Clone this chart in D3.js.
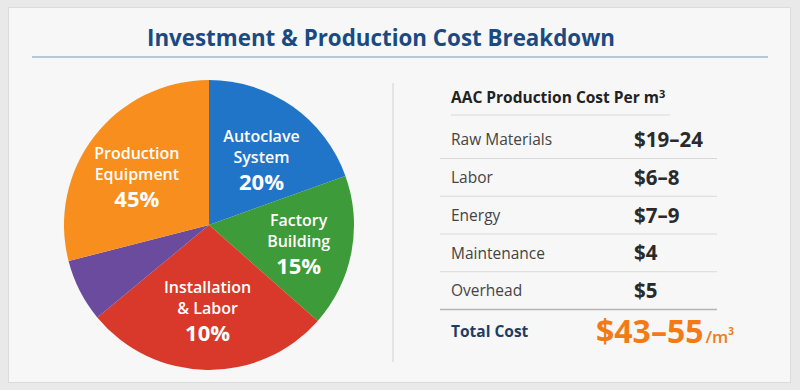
<!DOCTYPE html>
<html>
<head>
<meta charset="utf-8">
<script src="https://cdn.jsdelivr.net/npm/d3@7"></script>
<style>
  body { margin: 0; background: #e9e9e9; }
  svg { display: block; font-family: "Open Sans", "Noto Sans", sans-serif; }
</style>
</head>
<body>
<div id="c"></div>
<script>
// pie: names, printed percentages, and the share each slice takes in the drawing
var sliceNames = [["Autoclave", "System"], ["Factory", "Building"], ["Installation", "& Labor"], [], ["Production", "Equipment"]];
var slicePct = ["20%", "15%", "10%", "", "45%"];
var sliceShare = [19.5, 17, 27.5, 7, 29];
var sliceColors = ["#2075c9", "#3d9b39", "#d9392a", "#6b4b9e", "#f88e1d"];

// cost table
var costItems = ["Raw Materials", "Labor", "Energy", "Maintenance", "Overhead"];
var costValues = ["$19\u201324", "$6\u20138", "$7\u20139", "$4", "$5"];
var totalLabel = "Total Cost";
var totalValue = "$43\u201355";

var width = 800, height = 390;

var svg = d3.select("#c").append("svg")
	.attr("width", width)
	.attr("height", height);

// card
svg.append("rect")
	.attr("x", 8.5).attr("y", 7.5)
	.attr("width", 782).attr("height", 375)
	.attr("fill", "#f7f7f7")
	.attr("stroke", "#dcdcdc");

svg.append("text")
	.attr("x", 381).attr("y", 46)
	.attr("text-anchor", "middle")
	.attr("fill", "#1b4a82")
	.attr("font-size", 24)
	.attr("font-weight", 700)
	.attr("textLength", 468)
	.attr("lengthAdjust", "spacingAndGlyphs")
	.text("Investment & Production Cost Breakdown");

svg.append("line")
	.attr("x1", 32).attr("x2", 768)
	.attr("y1", 57).attr("y2", 57)
	.attr("stroke", "#b8c7d4")
	.attr("stroke-width", 2);

// divider
svg.append("line")
	.attr("x1", 393).attr("x2", 393)
	.attr("y1", 83).attr("y2", 362)
	.attr("stroke", "#dedede")
	.attr("stroke-width", 1.5);

// ---------- pie ----------
var radius = 145;
var pie_g = svg.append("g")
	.attr("transform", "translate(209,225)");

var pie = d3.pie().sort(null).value(function(d) { return d; });
var arcs = pie(sliceShare);

var arc = d3.arc().innerRadius(0).outerRadius(radius);
// centroid sits at ~83px from the centre
var labelArc = d3.arc().innerRadius(0).outerRadius(166);

pie_g.selectAll("path")
	.data(arcs)
	.enter()
	.append("path")
	.attr("d", arc)
	.attr("fill", function(d, i) { return sliceColors[i]; });

var lab = pie_g.selectAll(".slice-label")
	.data(arcs)
	.enter()
	.append("text")
	.attr("class", "slice-label")
	.attr("text-anchor", "middle")
	.attr("fill", "#fff")
	.attr("font-weight", 600)
	.attr("transform", function(d) {
		var c = labelArc.centroid(d);
		return "translate(" + (c[0] * 1.1) + "," + c[1] + ")";
	});

lab.each(function(d, i) {
	var t = d3.select(this);
	sliceNames[i].forEach(function(n, j) {
		t.append("tspan")
			.attr("x", 0)
			.attr("y", -15 + j * 21)
			.attr("font-size", 16)
			.text(n);
	});
	if (slicePct[i]) {
		t.append("tspan")
			.attr("x", 0)
			.attr("y", 33)
			.attr("font-size", 22)
			.attr("font-weight", 700)
			.text(slicePct[i]);
	}
});

// ---------- table ----------
var tx = 451, vx = 634;

var header = svg.append("text")
	.attr("x", tx).attr("y", 103)
	.attr("fill", "#222")
	.attr("font-size", 15.5)
	.attr("font-weight", 700);
header.append("tspan").text("AAC Production Cost Per m");
header.append("tspan").attr("font-size", 11).attr("dy", -5).text("3");

svg.append("line")
	.attr("x1", tx).attr("x2", 670)
	.attr("y1", 115).attr("y2", 115)
	.attr("stroke", "#d8d8d8");

var row_y = d3.scalePoint()
	.domain(costItems)
	.range([140, 291]);

var rows = svg.selectAll(".cost-row")
	.data(costItems)
	.enter()
	.append("g")
	.attr("class", "cost-row")
	.attr("transform", function(d) { return "translate(0," + row_y(d) + ")"; });

rows.append("text")
	.attr("x", tx).attr("dy", "0.35em")
	.attr("fill", "#444")
	.attr("font-size", 15.5)
	.text(function(d) { return d; });

rows.append("text")
	.attr("x", vx).attr("dy", "0.35em")
	.attr("fill", "#2a2a2a")
	.attr("font-size", 20.5)
	.attr("font-weight", 700)
	.text(function(d, i) { return costValues[i]; });

rows.append("line")
	.attr("x1", 440).attr("x2", 717)
	.attr("y1", 18.5).attr("y2", 18.5)
	.attr("stroke", function(d, i) { return i == costItems.length - 1 ? "#b5b5b5" : "#d9d9d9"; })
	.attr("stroke-width", function(d, i) { return i == costItems.length - 1 ? 1.5 : 1; });

var total_y = row_y(costItems[costItems.length - 1]) + 41;

svg.append("text")
	.attr("x", tx).attr("y", total_y).attr("dy", "0.35em")
	.attr("fill", "#1e3d66")
	.attr("font-size", 15.5)
	.attr("font-weight", 700)
	.text(totalLabel);

var tot = svg.append("text")
	.attr("x", 596).attr("y", total_y + 11)
	.attr("fill", "#f27b16")
	.attr("font-weight", 700);
tot.append("tspan").attr("font-size", 32).text(totalValue);
tot.append("tspan").attr("font-size", 17).attr("font-weight", 600).attr("dx", 2).text("/m");
tot.append("tspan").attr("font-size", 10).attr("dy", -8).text("3");
</script>
</body>
</html>
